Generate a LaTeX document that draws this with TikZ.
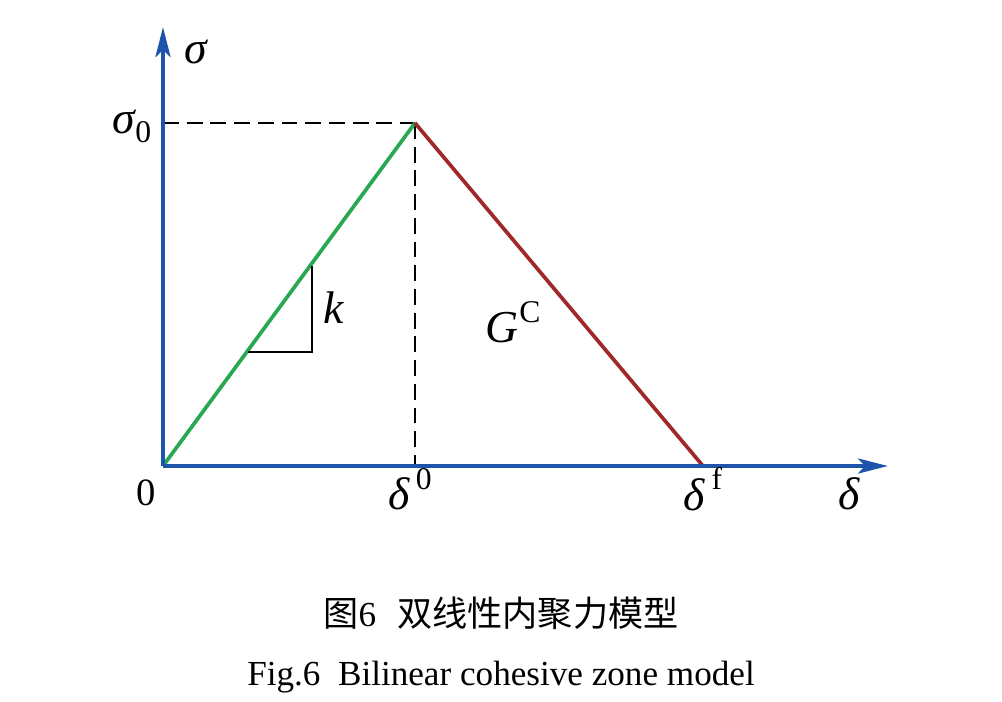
\documentclass[tikz,border=0pt]{standalone}
\usepackage{fontspec}
\setmainfont{Liberation Serif}
\newfontfamily\cjk{Noto Sans CJK SC}
\usetikzlibrary{arrows.meta}
\definecolor{axblue}{RGB}{30,84,170}
\definecolor{lgreen}{RGB}{40,168,80}
\definecolor{lred}{RGB}{160,40,40}
\newcommand{\supx}[1]{\kern0.14em\raisebox{0.45em}{\fontsize{18}{20}\selectfont #1}}
\newcommand{\supg}[1]{\kern0.02em\raisebox{0.45em}{\fontsize{18}{20}\selectfont #1}}
\newcommand{\subx}[1]{\raisebox{-0.2em}{\fontsize{18}{20}\selectfont #1}}
\tikzset{
  axis/.style={axblue, line width=2.6pt, -{Stealth[length=17pt,width=8.5pt,inset=4pt]}},
  dashline/.style={black, line width=1.4pt, dash pattern=on 9pt off 4.5pt},
  lbl/.style={inner sep=0pt, font=\fontsize{26}{30}\selectfont},
}
\begin{document}
\begin{tikzpicture}[x=0.02cm,y=-0.02cm]
\useasboundingbox (0,0) rectangle (1002,701);
\coordinate (O) at (163,466);
\coordinate (P) at (415,123);
\coordinate (F) at (703,466);
\coordinate (S0) at (163,123);
\coordinate (D0) at (415,466);
\coordinate (Ytop) at (163,27);
\coordinate (Xend) at (888,466);
\coordinate (T1) at (248,352);
\coordinate (T2) at (312,352);
\coordinate (T3) at (312,266);
\draw[dashline] (S0) -- (P);
\draw[dashline] (P) -- (D0);
\draw[lgreen, line width=2.1pt] (O) -- (P);
\draw[lred, line width=2.1pt] (P) -- (F);
\draw[black, line width=1.3pt] (T1) -- (T2) -- (T3);
\draw[axis] (O) -- (Ytop);
\draw[axis] (O) -- (Xend);
\node[lbl] (sig) at (196,52) {\itshape σ};
\node[lbl] (sig0) at (132,126) {{\itshape σ}\subx{0}};
\node[lbl] (k) at (334,308) {\itshape k};
\node[lbl] (gc) at (513,322) {{\itshape G}\supg{C}};
\node[lbl, font=\fontsize{22}{24}\selectfont] (zero) at (146,493) {0};
\node[lbl] (d0) at (410,489) {{\itshape δ}\supx{0}};
\node[lbl] (df) at (703,489) {{\itshape δ}\supx{f}};
\node[lbl] (d) at (849,494) {\itshape δ};
\node[inner sep=0pt, font=\fontsize{20}{24}\selectfont] (cap1) at (501,613) {{\cjk 图}6\hspace{0.6em}{\cjk 双线性内聚力模型}};
\node[inner sep=0pt, font=\fontsize{20}{24}\selectfont] (cap2) at (501,677) {Fig.6\hspace{0.5em}Bilinear cohesive zone model};
\end{tikzpicture}
\end{document}
